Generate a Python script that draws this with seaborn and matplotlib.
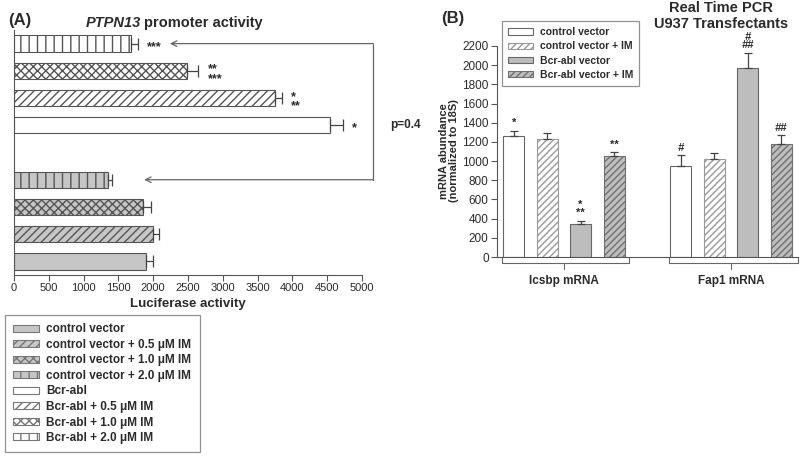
import numpy as np
import pandas as pd
import matplotlib
matplotlib.use("Agg")
import matplotlib.pyplot as plt
import seaborn as sns
from matplotlib.patches import Patch

# ---- Panel A: PTPN13 promoter activity (top to bottom) ----
a_labels = ["Bcr-abl + 2.0 \u03bcM IM", "Bcr-abl + 1.0 \u03bcM IM", "Bcr-abl + 0.5 \u03bcM IM", "Bcr-abl",
            "control vector + 2.0 \u03bcM IM", "control vector + 1.0 \u03bcM IM",
            "control vector + 0.5 \u03bcM IM", "control vector"]
a_slots = [0, 1, 2, 3, 5, 6, 7, 8]
a_values = [1680, 2480, 3750, 4540, 1350, 1855, 1990, 1900]
a_errors = [100, 170, 100, 190, 60, 120, 100, 100]
a_stars = ["***", "**\n***", "*\n**", "*", "", "", "", ""]
a_legend_order = ["control vector", "control vector + 0.5 \u03bcM IM", "control vector + 1.0 \u03bcM IM",
                  "control vector + 2.0 \u03bcM IM", "Bcr-abl", "Bcr-abl + 0.5 \u03bcM IM",
                  "Bcr-abl + 1.0 \u03bcM IM", "Bcr-abl + 2.0 \u03bcM IM"]

# ---- Panel B: Real Time PCR ----
b_genes = ["Icsbp mRNA", "Fap1 mRNA"]
b_conditions = ["control vector", "control vector + IM", "Bcr-abl vector", "Bcr-abl vector + IM"]
b_icsbp = [1262, 1227, 344, 1056]
b_icsbp_err = [55, 63, 35, 40]
b_fap1 = [952, 1022, 1975, 1175]
b_fap1_err = [110, 60, 155, 97]
b_icsbp_marks = ["*", "", "*\n**", "**"]
b_fap1_marks = ["#", "", "#\n##", "##"]

sns.set_style("white")
plt.rcParams["font.family"] = ["Liberation Sans", "DejaVu Sans"]
TXT = "#2b2b2b"
LINE = "#555555"
GRAY = "#c6c6c6"

def a_style(label):
    fc = GRAY if label.startswith("control") else "white"
    if "0.5" in label:
        h = "////"
    elif "1.0" in label:
        h = "xxxx"
    elif "2.0" in label:
        h = "||"
    else:
        h = ""
    return fc, h

fig = plt.figure(figsize=(8, 4.57), dpi=100)

# ================= Panel A =================
axA = fig.add_axes([14 / 800, 1 - 275 / 457, 348 / 800, 245 / 457])
dfA = pd.DataFrame({"label": a_labels, "slot": a_slots, "value": a_values})
pal = {lab: a_style(lab)[0] for lab in a_labels}
sns.barplot(data=dfA, x="value", y="slot", hue="label", orient="h", native_scale=True,
            palette=pal, dodge=False, width=0.6, errorbar=None, legend=False,
            edgecolor=LINE, linewidth=0.8, ax=axA)
for p in axA.patches:
    slot = int(round(p.get_y() + p.get_height() / 2))
    lab = a_labels[a_slots.index(slot)]
    p.set_hatch(a_style(lab)[1])
    p.set_edgecolor(LINE)
axA.errorbar(a_values, a_slots, xerr=[np.zeros(len(a_values)), a_errors], fmt="none",
             ecolor="#444444", elinewidth=0.9, capsize=4, capthick=0.9)
for v, e, s, st in zip(a_values, a_errors, a_slots, a_stars):
    if st:
        axA.text(v + e + 130, s + 0.12, st, ha="left", va="center", fontsize=9,
                 fontweight="bold", color=TXT, linespacing=0.7)
axA.set_xlim(0, 5000)
axA.set_ylim(8.5, -0.5)
axA.set_xticks(np.arange(0, 5001, 500))
axA.set_yticks([])
axA.set_xlabel("")
axA.set_ylabel("")
axA.tick_params(axis="x", bottom=True, length=4, width=0.8, color=LINE, labelsize=8,
                labelcolor=TXT, pad=2)
sns.despine(ax=axA, top=True, right=True)
for sp in ["left", "bottom"]:
    axA.spines[sp].set_color(LINE)
    axA.spines[sp].set_linewidth(0.8)

# bracket with arrows
xb = 5160
axA.plot([xb, xb], [0, 5], color="#666666", lw=0.9, clip_on=False)
for s, tip in [(0, 2240), (5, 1870)]:
    axA.annotate("", xy=(tip, s), xytext=(xb, s), xycoords="data",
                 arrowprops=dict(arrowstyle="->", color="#666666", lw=0.9,
                                 shrinkA=0, shrinkB=0, mutation_scale=10))
fig.text(390 / 800, 1 - 125 / 457, "p=0.4", fontsize=8.5, fontweight="bold", color=TXT,
         va="center", ha="left")

fig.text(8 / 800, 1 - 20 / 457, "(A)", fontsize=12, fontweight="bold", color=TXT, va="center")
fig.text(141 / 800, 1 - 23 / 457, "PTPN13", fontsize=10.5, fontweight="bold", style="italic",
         color=TXT, ha="right", va="center")
fig.text(144 / 800, 1 - 23 / 457, "promoter activity", fontsize=10.5, fontweight="bold",
         color=TXT, ha="left", va="center")
fig.text(188 / 800, 1 - 304 / 457, "Luciferase activity", fontsize=9.5, fontweight="bold",
         color=TXT, ha="center", va="center")

handlesA = []
for lab in a_legend_order:
    fc, h = a_style(lab)
    handlesA.append(Patch(facecolor=fc, edgecolor="#777777", hatch=h, linewidth=0.8, label=lab))
legA = fig.legend(handles=handlesA, loc="upper left", bbox_to_anchor=(5 / 800, 1 - 315 / 457),
                  borderaxespad=0, frameon=True, fancybox=False, fontsize=8.5,
                  handlelength=2.2, handleheight=0.55, labelspacing=0.3, handletextpad=0.6,
                  borderpad=0.7)
legA.get_frame().set_edgecolor("#777777")
legA.get_frame().set_linewidth(0.9)
for t in legA.get_texts():
    t.set_fontweight("bold")
    t.set_color(TXT)

# ================= Panel B =================
b_face = ["white", "white", "#bdbdbd", "#bdbdbd"]
b_hatch = ["", "/////", "", "/////"]
b_edge = ["#666666", "#9a9a9a", "#666666", "#707070"]

axB = fig.add_axes([497 / 800, 1 - 257 / 457, 301 / 800, 211 / 457])
dfB = pd.DataFrame({
    "gene": np.repeat(b_genes, len(b_conditions)),
    "condition": b_conditions * len(b_genes),
    "value": b_icsbp + b_fap1,
})
sns.barplot(data=dfB, x="gene", y="value", hue="condition", order=b_genes,
            hue_order=b_conditions, palette=dict(zip(b_conditions, b_face)),
            width=0.8, gap=0.37, errorbar=None, legend=False,
            edgecolor="#666666", linewidth=0.8, ax=axB)
for p in axB.patches:
    cx = p.get_x() + p.get_width() / 2
    g = int(round(cx))
    k = int(round((cx - g + 0.3) / 0.2))
    if 0 <= k < 4 and p.get_height() > 0:
        p.set_hatch(b_hatch[k])
        p.set_edgecolor(b_edge[k])

offsets = [-0.3, -0.1, 0.1, 0.3]
for g, (vals, errs, marks) in enumerate([(b_icsbp, b_icsbp_err, b_icsbp_marks),
                                         (b_fap1, b_fap1_err, b_fap1_marks)]):
    xs = [g + o for o in offsets]
    axB.errorbar(xs, vals, yerr=[np.zeros(4), errs], fmt="none", ecolor="#444444",
                 elinewidth=0.9, capsize=3, capthick=0.9)
    for x, v, e, m in zip(xs, vals, errs, marks):
        if m:
            axB.text(x, v + e + 25, m, ha="center", va="bottom", fontsize=8,
                     fontweight="bold", style="italic" if "#" in m else "normal",
                     color=TXT, linespacing=0.75, clip_on=False)

axB.set_xlim(-0.4, 1.4)
axB.set_ylim(0, 2200)
axB.set_yticks(np.arange(0, 2201, 200))
axB.set_xticks([])
axB.set_xlabel("")
axB.set_ylabel("")
axB.tick_params(axis="y", left=True, length=4, width=0.8, color=LINE, labelsize=8.5,
                labelcolor=TXT, pad=2)
sns.despine(ax=axB, top=True, right=True)
for sp in ["left", "bottom"]:
    axB.spines[sp].set_color(LINE)
    axB.spines[sp].set_linewidth(0.8)

# group brackets below the axis
yb = -65
for g, (x0, x1) in enumerate([(-0.37, 0.39), (0.63, 1.40)]):
    axB.plot([x0, x0, x1, x1], [0, yb, yb, 0], color="#666666", lw=0.8, clip_on=False)
    axB.plot([g, g], [yb, yb - 55], color="#666666", lw=0.8, clip_on=False)
    axB.text(g, yb - 120, b_genes[g], ha="center", va="top", fontsize=8.5,
             fontweight="bold", color=TXT, clip_on=False)

fig.text(449 / 800, 1 - 151 / 457, "mRNA abundance\n(normalized to 18S)", rotation=90,
         ha="center", va="center", fontsize=8, fontweight="bold", color=TXT,
         multialignment="center", linespacing=1.1)
fig.text(453 / 800, 1 - 19 / 457, "(B)", fontsize=12, fontweight="bold", color=TXT,
         ha="center", va="center")
fig.text(721 / 800, 1 - 16 / 457, "Real Time PCR\nU937 Transfectants", fontsize=10.5,
         fontweight="bold", color=TXT, ha="center", va="center", linespacing=1.15)

handlesB = [Patch(facecolor=f, edgecolor=e, hatch=h, linewidth=0.8, label=c)
            for c, f, h, e in zip(b_conditions, b_face, b_hatch, b_edge)]
legB = fig.legend(handles=handlesB, loc="upper left", bbox_to_anchor=(502 / 800, 1 - 21 / 457),
                  borderaxespad=0, frameon=True, fancybox=False, fontsize=7.5,
                  handlelength=2.4, handleheight=0.55, labelspacing=0.4, handletextpad=0.6,
                  borderpad=0.6)
legB.get_frame().set_edgecolor("#777777")
legB.get_frame().set_linewidth(0.9)
for t in legB.get_texts():
    t.set_fontweight("bold")
    t.set_color(TXT)

fig.savefig("out.png", dpi=100, facecolor="white")
